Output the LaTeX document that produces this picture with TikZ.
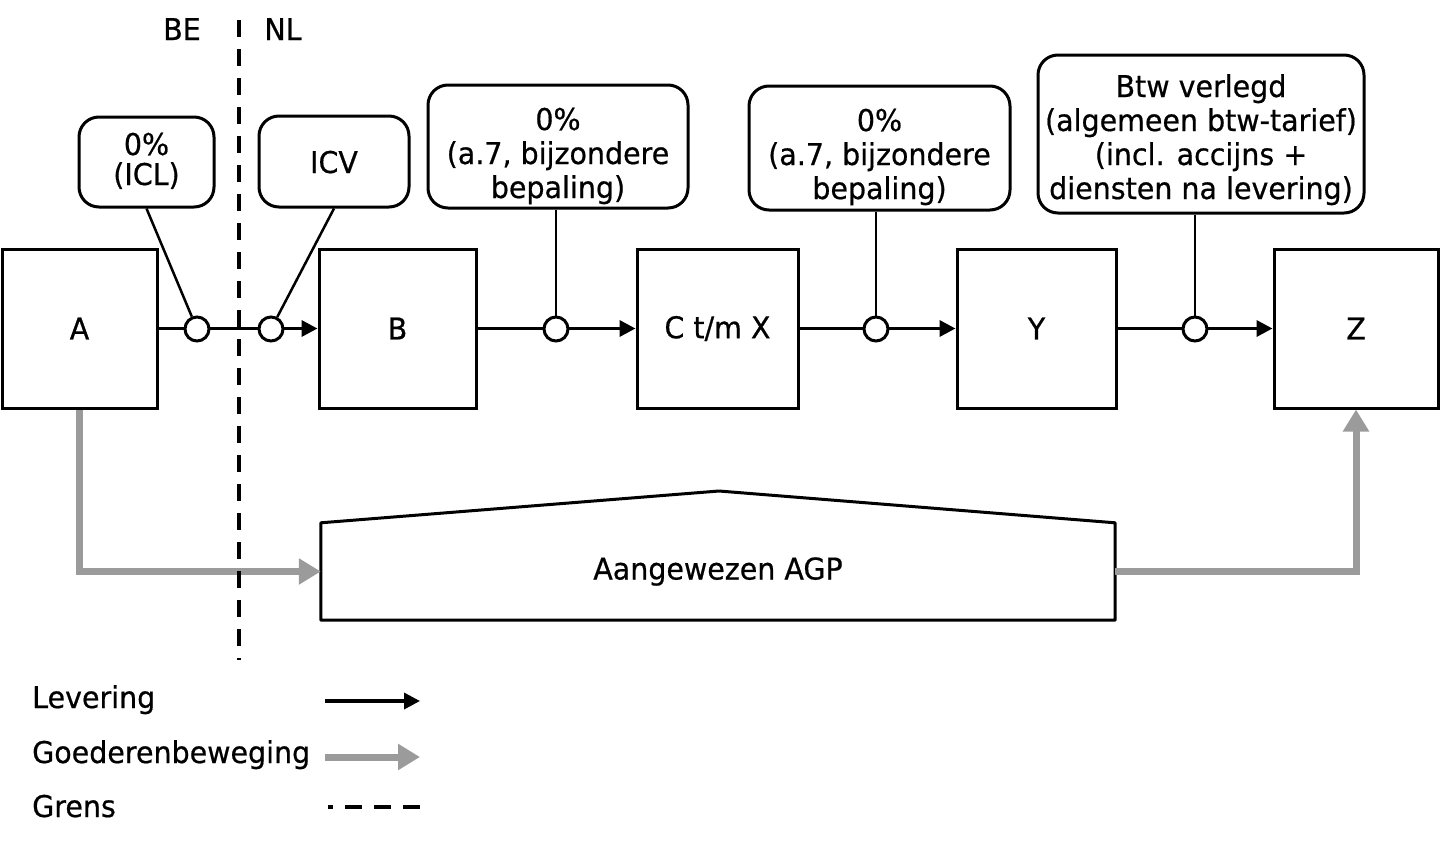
\documentclass[tikz,border=0pt]{standalone}
\usepackage{fontspec}
\setmainfont[FakeStretch=0.95,FakeBold=0.6]{DejaVu Sans}
\usetikzlibrary{arrows.meta}
\definecolor{goodsgray}{RGB}{155,155,155}
\newcommand{\firstline}[1]{\rule{0pt}{#1}}
\newcommand{\lastline}{\rule[-8pt]{0pt}{8pt}}
\begin{document}
\begin{tikzpicture}[x=1pt,y=-1pt,
  every node/.style={font=\fontsize{30}{34}\selectfont},
  party/.style={draw, line width=3pt, minimum height=159pt, inner sep=0pt},
  callout/.style={draw, line width=3pt, rounded corners=20pt, align=center, inner sep=0pt},
  knot/.style={circle, draw, fill=white, line width=3pt, minimum size=24pt, inner sep=0pt},
  lev/.style={line width=3.5pt, -{Triangle[length=16pt,width=16pt]}},
  goods/.style={line width=7pt, draw=goodsgray, -{Triangle[length=22pt,width=25pt,fill=goodsgray]}},
  border/.style={line width=4pt, dash pattern=on 17pt off 12pt},
  pointer/.style={line width=2.5pt},
  ]
\useasboundingbox (0,0) rectangle (1440,841);

% parties
\node[party, minimum width=155pt] (A) at (79.5,328.5) {A};
\node[party, minimum width=157pt] (B) at (397.5,328.5) {B};
\node[party, minimum width=161pt] (C) at (717.5,328.5) {C t/m X};
\node[party, minimum width=159pt] (Y) at (1036.5,328.5) {Y};
\node[party, minimum width=164pt] (Z) at (1356,328.5) {Z};

% callouts
\node[callout, minimum width=135pt, minimum height=90pt] (c1) at (146.5,162) {\firstline{24pt}0\%\\[-4pt](ICL)\lastline};
\node[callout, minimum width=150pt, minimum height=91pt] (c2) at (334,161.5) {\firstline{31pt}ICV\lastline};
\node[callout, minimum width=260pt, minimum height=123pt] (c3) at (558,146.5) {\firstline{43pt}0\%\\(a.7, bijzondere\\bepaling)\lastline};
\node[callout, minimum width=261pt, minimum height=124pt] (c4) at (879.5,148) {\firstline{42pt}0\%\\(a.7, bijzondere\\bepaling)\lastline};
\node[callout, minimum width=326pt, minimum height=158pt] (c5) at (1201,134) {\firstline{36pt}Btw verlegd\\(algemeen btw-tarief)\\(incl. accijns +\\diensten na levering)\lastline};

% deliveries
\draw[lev] (A) -- (B);
\draw[lev] (B) -- (C);
\draw[lev] (C) -- (Y);
\draw[lev] (Y) -- (Z);

% knots
\node[knot] (k1) at (197,329) {};
\node[knot] (k2) at (271,329) {};
\node[knot] (k3) at (556,329) {};
\node[knot] (k4) at (876,329) {};
\node[knot] (k5) at (1195,329) {};

\draw[pointer] (c1.south) -- (k1);
\draw[pointer] (c2.south) -- (k2);
\draw[pointer] (c3.south -| k3) -- (k3);
\draw[pointer] (c4.south -| k4) -- (k4);
\draw[pointer] (c5.south -| k5) -- (k5);

% AGP
\node[minimum width=794pt, minimum height=97pt, inner sep=0pt] (agp) at (718,571.5) {Aangewezen AGP};
\coordinate (apex) at (719,491);
\draw[line width=3pt, line join=round] (agp.south west) -- (agp.north west) -- (apex) -- (agp.north east) -- (agp.south east) -- cycle;

% goods movement
\draw[goods] (A.south) |- (agp.west);
\draw[goods] (agp.east) -| (Z.south);

% border
\coordinate (bt) at (239,20);
\coordinate (bb) at (239,660);
\draw[border] (bt) -- (bb);
\node[anchor=base] (be) at (182,40) {BE};
\node[anchor=base] (nl) at (283,40) {NL};

% legend
\node[anchor=base west, inner sep=0pt] (l1) at (32,708) {Levering};
\node[anchor=base west, inner sep=0pt] (l2) at (32,763) {Goederenbeweging};
\node[anchor=base west, inner sep=0pt] (l3) at (32,817) {Grens};
\coordinate (l1a) at (325,701); \coordinate (l1b) at (420,701);
\coordinate (l2a) at (325,757); \coordinate (l2b) at (420,757);
\coordinate (l3a) at (328,807); \coordinate (l3b) at (420,807);
\draw[lev] (l1a) -- (l1b);
\draw[goods] (l2a) -- (l2b);
\draw[border, dash phase=12pt] (l3a) -- (l3b);
\end{tikzpicture}
\end{document}
